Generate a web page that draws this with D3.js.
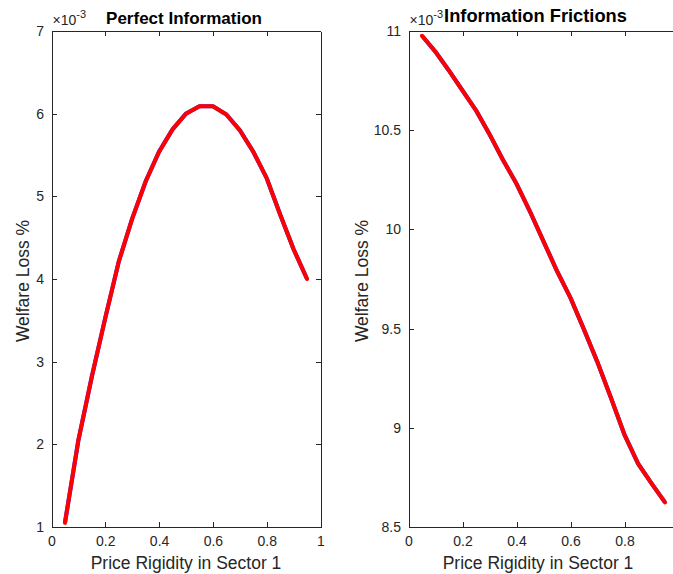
<!DOCTYPE html>
<html>
<head>
<meta charset="utf-8">
<script src="https://cdn.jsdelivr.net/npm/d3@7"></script>
<style>
    body { margin: 0; background: #fff; }
    svg { display: block; font-family: "Liberation Sans", Arial, Helvetica, sans-serif; }
</style>
</head>
<body>
<svg id="chart" width="673" height="574"></svg>
<script>
// price rigidity in sector 1 (x values shared by both panels)
var rigidity = [0.05, 0.10, 0.15, 0.20, 0.25, 0.30, 0.35, 0.40, 0.45, 0.50,
                0.55, 0.60, 0.65, 0.70, 0.75, 0.80, 0.85, 0.90, 0.95];

// welfare loss %, in units of 1e-3
var perfectInfo = [1.05, 2.05, 2.82, 3.53, 4.21, 4.73, 5.18, 5.54, 5.81, 6.00,
                   6.09, 6.09, 5.99, 5.80, 5.54, 5.22, 4.78, 4.36, 4.00];
var infoFrictions = [10.976, 10.895, 10.80, 10.70, 10.60, 10.48, 10.35, 10.23, 10.09, 9.94,
                     9.79, 9.655, 9.495, 9.33, 9.15, 8.965, 8.82, 8.72, 8.624];

var xTicks = [0, 0.2, 0.4, 0.6, 0.8, 1];
var leftYTicks = [1, 2, 3, 4, 5, 6, 7];
var rightYTicks = [8.5, 9, 9.5, 10, 10.5, 11];

var svg = d3.select('#chart');
var axisColor = '#262626';

// draws one MATLAB style subplot
function drawPanel(opts) {
    var x = d3.scaleLinear().domain([0, 1]).range([opts.left, opts.right]),
        y = d3.scaleLinear().domain(opts.yDomain).range([527, 31]),
        fmt = function (d) { return String(d); },
        xFmt = function (d) { return opts.hideLastX && d === 1 ? '' : String(d); };

    var g = svg.append('g');

    // bottom + top axes, ticks pointing inward
    g.append('g')
        .attr('transform', 'translate(0,527)')
        .call(d3.axisBottom(x).tickValues(xTicks).tickFormat(xFmt).tickSizeInner(-5).tickSizeOuter(0).tickPadding(9));
    g.append('g')
        .attr('transform', 'translate(0,31)')
        .call(d3.axisTop(x).tickValues(xTicks).tickFormat('').tickSizeInner(-5).tickSizeOuter(0));

    // left + right axes
    g.append('g')
        .attr('transform', 'translate(' + opts.left + ',0)')
        .call(d3.axisLeft(y).tickValues(opts.yTicks).tickFormat(fmt).tickSizeInner(-5).tickSizeOuter(0).tickPadding(7.5));
    g.append('g')
        .attr('transform', 'translate(' + opts.right + ',0)')
        .call(d3.axisRight(y).tickValues(opts.yTicks).tickFormat('').tickSizeInner(-5).tickSizeOuter(0));

    g.selectAll('.domain, .tick line').attr('stroke', axisColor).attr('shape-rendering', 'crispEdges');
    g.selectAll('.tick text').attr('fill', axisColor).style('font-size', '14px');

    // drop the end ticks that sit on the box corners
    g.selectAll('.tick').filter(function (d) {
        return d === 0 || d === 1 || d === opts.yDomain[0] || d === opts.yDomain[1];
    }).select('line').remove();

    var line = d3.line()
        .x(function (d, i) { return x(rigidity[i]); })
        .y(function (d) { return y(d); });

    g.append('path').datum(opts.values)
        .attr('d', line)
        .attr('fill', 'none')
        .attr('stroke', '#3030ff')
        .attr('stroke-width', 4.2)
        .attr('stroke-linejoin', 'round');
    g.append('path').datum(opts.values)
        .attr('d', line)
        .attr('fill', 'none')
        .attr('stroke', '#ff0000')
        .attr('stroke-width', 4)
        .attr('stroke-linejoin', 'round')
        .attr('stroke-linecap', 'round');

    // exponent label
    var ex = g.append('text')
        .attr('x', opts.left + 1)
        .attr('y', 25)
        .attr('fill', axisColor)
        .style('font-size', '14px');
    ex.append('tspan').text('\u00d710');
    ex.append('tspan').attr('dy', -7).style('font-size', '11px').text('-3');

    // title
    g.append('text')
        .attr('x', opts.titleX)
        .attr('y', opts.titleY)
        .attr('text-anchor', 'middle')
        .attr('font-weight', 'bold')
        .style('font-size', opts.titleSize)
        .attr('fill', '#000')
        .text(opts.title);

    // axis titles
    g.append('text')
        .attr('x', opts.xLabelX)
        .attr('y', 569)
        .attr('text-anchor', 'middle')
        .attr('fill', axisColor)
        .style('font-size', '17.5px')
        .text('Price Rigidity in Sector 1');

    g.append('text')
        .attr('transform', 'translate(' + opts.yLabelX + ',281) rotate(-90)')
        .attr('text-anchor', 'middle')
        .attr('fill', axisColor)
        .style('font-size', '17.5px')
        .text('Welfare Loss %');
}

drawPanel({
    left: 51.5, right: 320.5,
    yDomain: [1, 7], yTicks: leftYTicks,
    values: perfectInfo,
    title: 'Perfect Information', titleX: 184, titleY: 24, titleSize: '17px',
    xLabelX: 186, yLabelX: 29
});

drawPanel({
    left: 408.5, right: 678.5,
    yDomain: [8.5, 11], yTicks: rightYTicks,
    values: infoFrictions,
    title: 'Information Frictions', titleX: 535.5, titleY: 22, titleSize: '18.3px',
    xLabelX: 538, yLabelX: 368, hideLastX: true
});
</script>
</body>
</html>
